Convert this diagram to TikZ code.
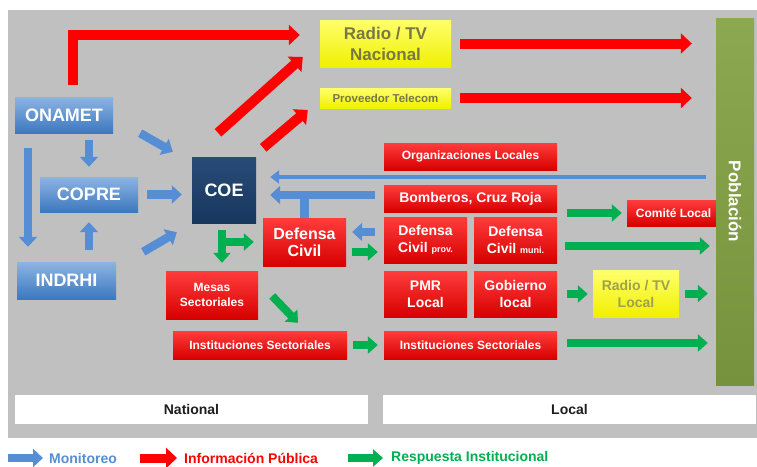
\documentclass[tikz,border=0pt]{standalone}
\usepackage{fontspec}
\setmainfont{Liberation Sans}
\usetikzlibrary{arrows.meta}

\definecolor{monblue}{RGB}{85,142,213}
\definecolor{infred}{RGB}{255,0,0}
\definecolor{resgreen}{RGB}{0,176,80}
\definecolor{bggray}{RGB}{192,192,192}
\definecolor{coenavy}{RGB}{23,55,94}
\definecolor{pobgreen}{RGB}{118,146,60}
\definecolor{yeltext}{RGB}{120,120,70}
\definecolor{yeltextlt}{RGB}{160,160,80}

\begin{document}
\begin{tikzpicture}[x=1pt,y=-1pt,
  box/.style={rectangle, inner sep=0pt, align=center, text=white},
  bluebox/.style={box, top color={rgb,255:red,141;green,180;blue,226}, bottom color={rgb,255:red,60;green,120;blue,192}},
  redbox/.style={box, top color={rgb,255:red,255;green,60;blue,60}, bottom color={rgb,255:red,215;green,0;blue,0}},
  yelbox/.style={box, text=yeltext, top color={rgb,255:red,255;green,255;blue,110}, bottom color={rgb,255:red,240;green,240;blue,0}},
  barbox/.style={box, fill=white, text={rgb,255:red,30;green,30;blue,30}},
  fbig/.style={font=\bfseries\fontsize{18}{20}\selectfont},
  fmid/.style={font=\bfseries\fontsize{14}{17}\selectfont},
  fsml/.style={font=\bfseries\fontsize{12}{15}\selectfont},
  redarr/.style={draw=infred, line width=10pt, -{Triangle[length=11pt,width=20pt]}},
  bluarr/.style={draw=monblue, line width=8.5pt, -{Triangle[length=10pt,width=18pt]}},
  bluthin/.style={draw=monblue, line width=4.5pt, -{Triangle[length=9pt,width=13pt]}},
  grnarr/.style={draw=resgreen, line width=8pt, -{Triangle[length=10pt,width=17pt]}}]

\fill[white] (0,0) rectangle (757,466);
\useasboundingbox (0,0) rectangle (757,466);
\fill[bggray] (8,10) rectangle (757,438);

\node[bluebox, fbig, minimum width=98pt, minimum height=36pt] (onamet) at (64,115) {ONAMET};
\node[bluebox, fbig, minimum width=98pt, minimum height=35pt] (copre) at (89,194.5) {COPRE};
\node[bluebox, fbig, minimum width=99pt, minimum height=37pt] (indrhi) at (66.5,280.5) {INDRHI};
\node[box, fbig, top color={rgb,255:red,40;green,75;blue,120}, bottom color=coenavy, minimum width=64pt, minimum height=66pt] (coe) at (224,190) {COE};

\node[yelbox, font=\bfseries\fontsize{17}{21}\selectfont, minimum width=131pt, minimum height=47pt] (radnac) at (385.5,43.5) {Radio / TV\\Nacional};
\node[yelbox, font=\bfseries\fontsize{11.5}{13}\selectfont, minimum width=131pt, minimum height=20pt] (telecom) at (385.5,98) {Proveedor Telecom};

\node[redbox, font=\bfseries\fontsize{16}{17}\selectfont, minimum width=83pt, minimum height=48pt] (dcnac) at (304.5,242) {Defensa\\Civil};
\node[redbox, fsml, minimum width=92pt, minimum height=48pt] (mesas) at (212,295) {Mesas\\Sectoriales};
\node[redbox, fsml, minimum width=174pt, minimum height=28pt] (instnac) at (260,345) {Instituciones Sectoriales};

\node[redbox, fsml, minimum width=173pt, minimum height=27pt] (orgloc) at (470.5,156.5) {Organizaciones Locales};
\node[redbox, fmid, minimum width=173pt, minimum height=27pt] (bomb) at (470.5,198.5) {Bomberos, Cruz Roja};
\node[redbox, fmid, minimum width=83pt, minimum height=46pt] (dcprov) at (425.5,240) {Defensa\\Civil {\fontsize{9}{10}\selectfont prov.}};
\node[redbox, fmid, minimum width=83pt, minimum height=46pt] (dcmuni) at (515.5,240) {Defensa\\Civil {\fontsize{9}{10}\selectfont muni.}};
\node[redbox, fmid, minimum width=83pt, minimum height=46pt] (pmr) at (425.5,294) {PMR\\Local};
\node[redbox, fmid, minimum width=83pt, minimum height=46pt] (gob) at (515.5,294) {Gobierno\\local};
\node[redbox, fsml, minimum width=173pt, minimum height=28pt] (instloc) at (470.5,345) {Instituciones Sectoriales};
\node[yelbox, fmid, text=yeltextlt, minimum width=86pt, minimum height=47pt] (radloc) at (636,293.5) {Radio / TV\\Local};
\node[redbox, fsml, minimum width=93pt, minimum height=26pt] (comite) at (673.5,213) {Comité Local};

\node[box, top color={rgb,255:red,140;green,168;blue,80}, bottom color=pobgreen, minimum width=38pt, minimum height=367pt] (pob) at (735,201.5) {};
\node[text=white, font=\bfseries\fontsize{17}{19}\selectfont, rotate=-90, inner sep=0pt] (pobtxt) at (pob) {Población};

\node[barbox, fmid, minimum width=353pt, minimum height=29pt] (national) at (191.5,409.5) {National};
\node[barbox, fmid, minimum width=373pt, minimum height=29pt] (local) at (569.5,409.5) {Local};

\draw[redarr, shorten <=12pt, shorten >=20pt] ([xshift=9pt]onamet.north) |- ([yshift=8.5pt]radnac.west);
\draw[redarr] ([xshift=-6pt,yshift=24pt]coe.north) -- ([xshift=-17pt,yshift=-13.5pt]radnac.west);
\draw[redarr] ([xshift=7pt,yshift=9pt]coe.north east) -- ([xshift=-12pt,yshift=-12pt]telecom.west);
\draw[redarr, shorten <=9pt, shorten >=24pt] (radnac.east) -- (radnac.east -| pob.west);
\draw[redarr, shorten <=9pt, shorten >=24pt] (telecom.east) -- (telecom.east -| pob.west);

\draw[bluarr, shorten <=7pt, shorten >=10pt] (copre.north |- onamet.south) -- (copre.north);
\draw[bluarr, line width=8pt, shorten <=15pt, shorten >=15pt] ([xshift=-36pt]onamet.south) -- ([xshift=-36pt]onamet.south |- indrhi.north);
\draw[bluarr, shorten <=12pt, shorten >=10pt] (copre.south |- indrhi.north) -- (copre.south);
\draw[bluarr] ([xshift=27pt]onamet.south east) -- ([xshift=-19pt,yshift=5pt]coe.north west);
\draw[bluarr, shorten <=9pt, shorten >=10pt] (copre.east) -- (copre.east -| coe.west);
\draw[bluarr] ([xshift=27pt,yshift=10pt]indrhi.north east) -- ([xshift=-15pt,yshift=-9pt]coe.south west);

\coordinate (pobline) at ([xshift=-10pt,yshift=24.5pt]pob.west);
\coordinate (bombline) at ([yshift=3.5pt]bomb.west);
\draw[bluthin, shorten >=14pt] (pobline) -- (pobline -| coe.east);
\draw[bluarr, shorten <=9pt, shorten >=14pt] (bombline) -- (bombline -| coe.east);
\draw[monblue, line width=8.5pt] (dcnac.north) -- (dcnac.north |- bombline);
\draw[bluarr, shorten <=9pt, shorten >=6pt] ([yshift=8pt]dcprov.west) -- ([yshift=8pt]dcprov.west -| dcnac.east);

\draw[grnarr, shorten <=7pt, shorten >=8pt] ([xshift=-2pt]coe.south) -- ([xshift=-2pt]coe.south |- mesas.north);
\draw[grnarr, shorten >=9pt] ([xshift=-2pt]coe.south |- dcnac.west) -- (dcnac.west);
\draw[grnarr, shorten <=6pt, shorten >=6pt] ([yshift=-10pt]dcnac.east) -- ([yshift=-10pt]dcnac.east -| dcprov.west);
\draw[grnarr] ([xshift=14pt,yshift=-1pt]mesas.east) -- ([xshift=38pt,yshift=8pt]instnac.north);
\draw[grnarr, shorten <=6pt, shorten >=6pt] (instnac.east) -- (instloc.west);
\draw[grnarr, shorten <=10pt, shorten >=5pt] (comite.west -| bomb.east) -- (comite.west);
\draw[grnarr, shorten <=8pt, shorten >=6pt] ([yshift=-6pt]dcmuni.east) -- ([yshift=-6pt]dcmuni.east -| pob.west);
\draw[grnarr, shorten <=10pt, shorten >=5pt] (gob.east) -- (gob.east -| radloc.west);
\draw[grnarr, shorten <=6pt, shorten >=8pt] (radloc.east) -- (radloc.east -| pob.west);
\draw[grnarr, shorten <=10pt, shorten >=8pt] ([yshift=2pt]instloc.east) -- ([yshift=2pt]instloc.east -| pob.west);

\node[anchor=west, inner sep=0pt, text=monblue, fmid] (lgmon) at (49,458) {Monitoreo};
\node[anchor=west, inner sep=0pt, text=infred, fmid] (lginf) at (184,458) {Información Pública};
\node[anchor=west, inner sep=0pt, text=resgreen, fmid] (lgres) at (391,458) {Respuesta Institucional};
\draw[bluarr] ([xshift=-41pt]lgmon.west) -- ([xshift=-6pt]lgmon.west);
\draw[redarr, line width=9pt] ([xshift=-44pt]lginf.west) -- ([xshift=-7pt]lginf.west);
\draw[grnarr] ([xshift=-43pt]lgres.west) -- ([xshift=-8pt]lgres.west);
\end{tikzpicture}
\end{document}
